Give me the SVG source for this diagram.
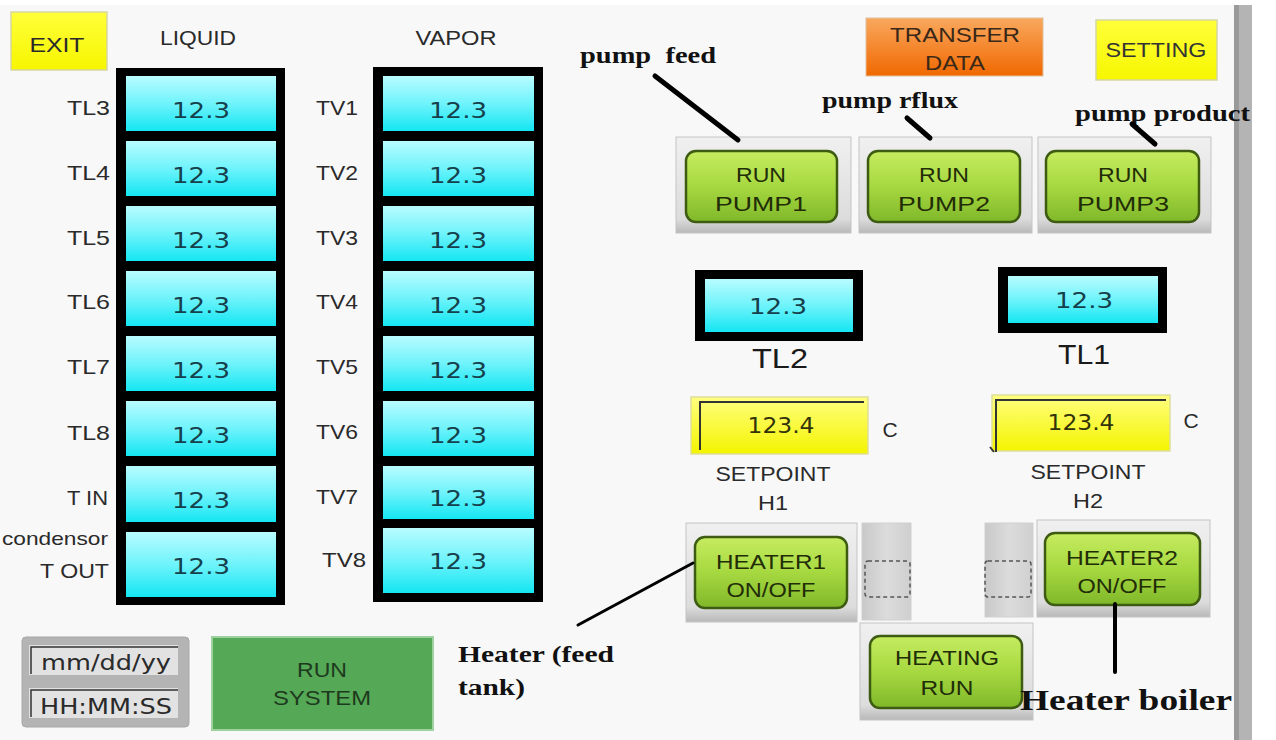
<svg xmlns="http://www.w3.org/2000/svg" width="1276" height="740" viewBox="0 0 1276 740">
<defs>
<linearGradient id="cyan" x1="0" y1="0" x2="0" y2="1"><stop offset="0" stop-color="#b8fcff"/><stop offset="0.5" stop-color="#6ff3fb"/><stop offset="1" stop-color="#14e6f2"/></linearGradient>
<linearGradient id="green" x1="0" y1="0" x2="0" y2="1"><stop offset="0" stop-color="#c6ec60"/><stop offset="0.5" stop-color="#a6d840"/><stop offset="1" stop-color="#80b82a"/></linearGradient>
<linearGradient id="frame" x1="0" y1="0" x2="0" y2="1"><stop offset="0" stop-color="#f0f0f0"/><stop offset="0.85" stop-color="#dcdcdc"/><stop offset="1" stop-color="#b8b8b8"/></linearGradient>
<linearGradient id="strip" x1="0" y1="0" x2="1" y2="0"><stop offset="0" stop-color="#c8c8c8"/><stop offset="0.5" stop-color="#dcdcdc"/><stop offset="1" stop-color="#cfcfcf"/></linearGradient>
<linearGradient id="yellow" x1="0" y1="0" x2="0" y2="1"><stop offset="0" stop-color="#ffff80"/><stop offset="1" stop-color="#f4f400"/></linearGradient>
<linearGradient id="yel2" x1="0" y1="0" x2="0" y2="1"><stop offset="0" stop-color="#ffff3a"/><stop offset="1" stop-color="#f6f600"/></linearGradient>
<linearGradient id="orange" x1="0" y1="0" x2="0" y2="1"><stop offset="0" stop-color="#f9a85e"/><stop offset="1" stop-color="#f06800"/></linearGradient>
<style>
.lbl{font-family:"Liberation Sans",Arial,sans-serif;font-size:21px;fill:#2a2a2a}
.hdr{font-family:"Liberation Sans",Arial,sans-serif;font-size:21px;fill:#2a2a2a;text-anchor:middle}
.num{font-family:"DejaVu Sans",Verdana,sans-serif;font-size:22px;fill:#15404c;text-anchor:middle}
.sp{font-family:"DejaVu Sans",Verdana,sans-serif;font-size:22px;fill:#33330a;text-anchor:middle}
.btn{font-family:"Liberation Sans",Arial,sans-serif;font-size:21px;fill:#222d08;text-anchor:middle}
.big{font-family:"Liberation Sans",Arial,sans-serif;font-size:28px;fill:#1a1a1a;text-anchor:middle}
.mono{font-family:"DejaVu Sans",Verdana,sans-serif;font-size:22px;fill:#2a2a2a;text-anchor:middle}
.note{font-family:"Liberation Serif","Times New Roman",serif;font-weight:bold;fill:#111}
.cell{fill:url(#cyan)}
.frm{fill:url(#frame);stroke:#c4c4c4;stroke-width:1}
.gbtn{fill:url(#green);stroke:#3d5c12;stroke-width:2.5}
.strip{fill:url(#strip);stroke:#d0d0d0;stroke-width:1}
.dash{fill:none;stroke:#555;stroke-width:1.5;stroke-dasharray:4 3}
.lead{stroke:#000;stroke-linecap:round;fill:none}
</style>
</defs>
<rect x="0" y="0" width="1276" height="740" fill="#f8f8f8"/>
<rect x="0" y="0" width="1276" height="5" fill="#ffffff"/>
<rect x="1234" y="5" width="5" height="735" fill="#9a9a9a"/>
<rect x="1239" y="5" width="13" height="735" fill="#b4b4b4"/>
<rect x="1252" y="0" width="24" height="740" fill="#ffffff"/>

<g id="exit">
<rect x="11" y="12" width="96" height="58" fill="url(#yel2)" stroke="#d6d6a0" stroke-width="1.5"/>
<text class="lbl" x="57" y="52" text-anchor="middle" textLength="55" lengthAdjust="spacingAndGlyphs">EXIT</text>
</g>
<g id="liquid-header"><text class="hdr" x="198" y="45" textLength="76" lengthAdjust="spacingAndGlyphs">LIQUID</text></g>
<g id="vapor-header"><text class="hdr" x="456" y="45" textLength="81" lengthAdjust="spacingAndGlyphs">VAPOR</text></g>

<g id="liquid-column">
<rect x="116" y="68" width="169" height="537" fill="#000"/>
<rect class="cell" x="126" y="76" width="150" height="55"/>
<rect class="cell" x="126" y="141" width="150" height="55"/>
<rect class="cell" x="126" y="206" width="150" height="55"/>
<rect class="cell" x="126" y="271" width="150" height="55"/>
<rect class="cell" x="126" y="336" width="150" height="55"/>
<rect class="cell" x="126" y="401" width="150" height="55"/>
<rect class="cell" x="126" y="466" width="150" height="56"/>
<rect class="cell" x="126" y="532" width="150" height="65"/>
<text class="num" x="201" y="118" textLength="58" lengthAdjust="spacingAndGlyphs">12.3</text>
<text class="num" x="201" y="183" textLength="58" lengthAdjust="spacingAndGlyphs">12.3</text>
<text class="num" x="201" y="248" textLength="58" lengthAdjust="spacingAndGlyphs">12.3</text>
<text class="num" x="201" y="313" textLength="58" lengthAdjust="spacingAndGlyphs">12.3</text>
<text class="num" x="201" y="378" textLength="58" lengthAdjust="spacingAndGlyphs">12.3</text>
<text class="num" x="201" y="443" textLength="58" lengthAdjust="spacingAndGlyphs">12.3</text>
<text class="num" x="201" y="508" textLength="58" lengthAdjust="spacingAndGlyphs">12.3</text>
<text class="num" x="201" y="574" textLength="58" lengthAdjust="spacingAndGlyphs">12.3</text>
<g text-anchor="end">
<text class="lbl" x="110" y="115" textLength="43" lengthAdjust="spacingAndGlyphs">TL3</text>
<text class="lbl" x="110" y="180" textLength="43" lengthAdjust="spacingAndGlyphs">TL4</text>
<text class="lbl" x="110" y="245" textLength="43" lengthAdjust="spacingAndGlyphs">TL5</text>
<text class="lbl" x="110" y="309" textLength="43" lengthAdjust="spacingAndGlyphs">TL6</text>
<text class="lbl" x="110" y="374" textLength="43" lengthAdjust="spacingAndGlyphs">TL7</text>
<text class="lbl" x="110" y="440" textLength="43" lengthAdjust="spacingAndGlyphs">TL8</text>
<text class="lbl" x="108" y="505" textLength="41" lengthAdjust="spacingAndGlyphs">T IN</text>
<text class="lbl" x="108" y="545" style="font-size:19px" textLength="106" lengthAdjust="spacingAndGlyphs">condensor</text>
<text class="lbl" x="109" y="578" textLength="69" lengthAdjust="spacingAndGlyphs">T OUT</text>
</g>
</g>

<g id="vapor-column">
<rect x="373" y="67" width="170" height="535" fill="#000"/>
<rect class="cell" x="383" y="76" width="151" height="55"/>
<rect class="cell" x="383" y="141" width="151" height="55"/>
<rect class="cell" x="383" y="206" width="151" height="55"/>
<rect class="cell" x="383" y="271" width="151" height="55"/>
<rect class="cell" x="383" y="336" width="151" height="55"/>
<rect class="cell" x="383" y="401" width="151" height="55"/>
<rect class="cell" x="383" y="466" width="151" height="53"/>
<rect class="cell" x="383" y="528" width="151" height="65"/>
<text class="num" x="458" y="118" textLength="58" lengthAdjust="spacingAndGlyphs">12.3</text>
<text class="num" x="458" y="183" textLength="58" lengthAdjust="spacingAndGlyphs">12.3</text>
<text class="num" x="458" y="248" textLength="58" lengthAdjust="spacingAndGlyphs">12.3</text>
<text class="num" x="458" y="313" textLength="58" lengthAdjust="spacingAndGlyphs">12.3</text>
<text class="num" x="458" y="378" textLength="58" lengthAdjust="spacingAndGlyphs">12.3</text>
<text class="num" x="458" y="443" textLength="58" lengthAdjust="spacingAndGlyphs">12.3</text>
<text class="num" x="458" y="506" textLength="58" lengthAdjust="spacingAndGlyphs">12.3</text>
<text class="num" x="458" y="569" textLength="58" lengthAdjust="spacingAndGlyphs">12.3</text>
<g text-anchor="end">
<text class="lbl" x="358" y="115" textLength="42" lengthAdjust="spacingAndGlyphs">TV1</text>
<text class="lbl" x="358" y="180" textLength="42" lengthAdjust="spacingAndGlyphs">TV2</text>
<text class="lbl" x="358" y="245" textLength="42" lengthAdjust="spacingAndGlyphs">TV3</text>
<text class="lbl" x="358" y="309" textLength="42" lengthAdjust="spacingAndGlyphs">TV4</text>
<text class="lbl" x="358" y="374" textLength="42" lengthAdjust="spacingAndGlyphs">TV5</text>
<text class="lbl" x="358" y="439" textLength="42" lengthAdjust="spacingAndGlyphs">TV6</text>
<text class="lbl" x="358" y="504" textLength="42" lengthAdjust="spacingAndGlyphs">TV7</text>
<text class="lbl" x="366" y="567" textLength="44" lengthAdjust="spacingAndGlyphs">TV8</text>
</g>
</g>

<g id="transfer-data">
<rect x="866" y="18" width="177" height="58" fill="url(#orange)" stroke="#e0c0a0" stroke-width="1"/>
<text class="btn" x="955" y="42" style="fill:#3a2818" textLength="130" lengthAdjust="spacingAndGlyphs">TRANSFER</text>
<text class="btn" x="955" y="70" style="fill:#3a2818" textLength="60" lengthAdjust="spacingAndGlyphs">DATA</text>
</g>
<g id="setting">
<rect x="1096" y="20" width="121" height="60" fill="url(#yel2)" stroke="#d6d6a0" stroke-width="1.5"/>
<text class="btn" x="1156" y="57" style="fill:#333" textLength="101" lengthAdjust="spacingAndGlyphs">SETTING</text>
</g>

<g id="pump1">
<rect class="frm" x="676" y="137" width="175" height="96"/>
<rect class="gbtn" x="686" y="151" width="151" height="71" rx="10"/>
<text class="btn" x="761" y="182" textLength="50" lengthAdjust="spacingAndGlyphs">RUN</text>
<text class="btn" x="761" y="211" textLength="92" lengthAdjust="spacingAndGlyphs">PUMP1</text>
</g>
<g id="pump2">
<rect class="frm" x="859" y="137" width="173" height="96"/>
<rect class="gbtn" x="868" y="151" width="152" height="71" rx="10"/>
<text class="btn" x="944" y="182" textLength="50" lengthAdjust="spacingAndGlyphs">RUN</text>
<text class="btn" x="944" y="211" textLength="92" lengthAdjust="spacingAndGlyphs">PUMP2</text>
</g>
<g id="pump3">
<rect class="frm" x="1038" y="137" width="173" height="96"/>
<rect class="gbtn" x="1046" y="151" width="153" height="71" rx="10"/>
<text class="btn" x="1123" y="182" textLength="50" lengthAdjust="spacingAndGlyphs">RUN</text>
<text class="btn" x="1123" y="211" textLength="92" lengthAdjust="spacingAndGlyphs">PUMP3</text>
</g>

<g id="tl2">
<rect x="695" y="270" width="168" height="71" fill="#000"/>
<rect class="cell" x="705" y="279" width="148" height="53"/>
<text class="num" x="778" y="314" textLength="58" lengthAdjust="spacingAndGlyphs">12.3</text>
<text class="big" x="780" y="368" textLength="56" lengthAdjust="spacingAndGlyphs">TL2</text>
</g>
<g id="tl1">
<rect x="998" y="267" width="169" height="66" fill="#000"/>
<rect class="cell" x="1008" y="276" width="150" height="47"/>
<text class="num" x="1084" y="308" textLength="58" lengthAdjust="spacingAndGlyphs">12.3</text>
<text class="big" x="1084" y="364" textLength="52" lengthAdjust="spacingAndGlyphs">TL1</text>
</g>

<g id="setpoint-h1">
<rect x="691" y="397" width="177" height="57" fill="url(#yellow)" stroke="#dede9a" stroke-width="1.5"/>
<path d="M700 450 V402 H864" fill="none" stroke="#333" stroke-width="2"/>
<text class="sp" x="781" y="433" textLength="67" lengthAdjust="spacingAndGlyphs">123.4</text>
<text class="lbl" x="890" y="437" text-anchor="middle">C</text>
<text class="lbl" x="773" y="481" text-anchor="middle" textLength="115" lengthAdjust="spacingAndGlyphs">SETPOINT</text>
<text class="lbl" x="773" y="510" text-anchor="middle" textLength="30" lengthAdjust="spacingAndGlyphs">H1</text>
</g>
<g id="setpoint-h2">
<rect x="992" y="395" width="178" height="56" fill="url(#yellow)" stroke="#dede9a" stroke-width="1.5"/>
<path d="M990 447 L994 452 M996 452 V400 H1166" fill="none" stroke="#333" stroke-width="2"/>
<text class="sp" x="1081" y="430" textLength="67" lengthAdjust="spacingAndGlyphs">123.4</text>
<text class="lbl" x="1191" y="428" text-anchor="middle">C</text>
<text class="lbl" x="1088" y="479" text-anchor="middle" textLength="115" lengthAdjust="spacingAndGlyphs">SETPOINT</text>
<text class="lbl" x="1088" y="508" text-anchor="middle" textLength="30" lengthAdjust="spacingAndGlyphs">H2</text>
</g>

<g id="heater1">
<rect class="frm" x="686" y="523" width="171" height="99"/>
<rect class="gbtn" x="695" y="537" width="152" height="71" rx="10"/>
<text class="btn" x="771" y="569" textLength="110" lengthAdjust="spacingAndGlyphs">HEATER1</text>
<text class="btn" x="771" y="597" textLength="89" lengthAdjust="spacingAndGlyphs">ON/OFF</text>
</g>
<g id="strip-left">
<rect class="strip" x="862" y="523" width="49" height="97"/>
<rect class="dash" x="865" y="561" width="45" height="36" rx="3"/>
</g>
<g id="strip-right">
<rect class="strip" x="985" y="523" width="48" height="94"/>
<rect class="dash" x="985" y="561" width="46" height="36" rx="3"/>
</g>
<g id="heater2">
<rect class="frm" x="1037" y="520" width="173" height="97"/>
<rect class="gbtn" x="1045" y="533" width="155" height="72" rx="10"/>
<text class="btn" x="1122" y="565" textLength="112" lengthAdjust="spacingAndGlyphs">HEATER2</text>
<text class="btn" x="1122" y="593" textLength="89" lengthAdjust="spacingAndGlyphs">ON/OFF</text>
</g>
<g id="heating-run">
<rect class="frm" x="860" y="623" width="173" height="97"/>
<rect class="gbtn" x="870" y="636" width="152" height="72" rx="10"/>
<text class="btn" x="947" y="665" textLength="104" lengthAdjust="spacingAndGlyphs">HEATING</text>
<text class="btn" x="947" y="695" textLength="53" lengthAdjust="spacingAndGlyphs">RUN</text>
</g>

<g id="datetime">
<rect x="22" y="637" width="167" height="90" rx="4" fill="#b4b4b4" stroke="#a8a8a8" stroke-width="1"/>
<rect x="29" y="645" width="149" height="30" fill="#e2e2e2"/>
<path d="M31 674 V647 H178" fill="none" stroke="#333" stroke-width="1.5"/>
<rect x="29" y="688" width="149" height="30" fill="#e2e2e2"/>
<path d="M31 717 V690 H178" fill="none" stroke="#333" stroke-width="1.5"/>
<text class="mono" x="106" y="670" textLength="130" lengthAdjust="spacingAndGlyphs">mm/dd/yy</text>
<text class="mono" x="106" y="714" textLength="132" lengthAdjust="spacingAndGlyphs">HH:MM:SS</text>
</g>
<g id="run-system">
<rect x="212" y="637" width="221" height="93" fill="#55a855" stroke="#9fd09f" stroke-width="2"/>
<text class="btn" x="322" y="677" style="fill:#1e3a1e" textLength="50" lengthAdjust="spacingAndGlyphs">RUN</text>
<text class="btn" x="322" y="705" style="fill:#1e3a1e" textLength="98" lengthAdjust="spacingAndGlyphs">SYSTEM</text>
</g>

<g id="annotations">
<text class="note" x="580" y="63" style="font-size:24px;white-space:pre" textLength="136" lengthAdjust="spacingAndGlyphs">pump  feed</text>
<text class="note" x="822" y="108" style="font-size:24px" textLength="136" lengthAdjust="spacingAndGlyphs">pump rflux</text>
<text class="note" x="1075" y="121" style="font-size:24px" textLength="175" lengthAdjust="spacingAndGlyphs">pump product</text>
<text class="note" x="458" y="662" style="font-size:24px" textLength="156" lengthAdjust="spacingAndGlyphs">Heater (feed</text>
<text class="note" x="458" y="695" style="font-size:24px" textLength="67" lengthAdjust="spacingAndGlyphs">tank)</text>
<text class="note" x="1020" y="710" style="font-size:30px" textLength="212" lengthAdjust="spacingAndGlyphs">Heater boiler</text>
</g>

<g id="connectors">
<line class="lead" x1="655" y1="76" x2="738" y2="140" stroke-width="5"/>
<line class="lead" x1="907" y1="118" x2="930" y2="138" stroke-width="5"/>
<line class="lead" x1="1132" y1="124" x2="1155" y2="144" stroke-width="5"/>
<line class="lead" x1="693" y1="563" x2="578" y2="625" stroke-width="3"/>
<line class="lead" x1="1115" y1="604" x2="1115" y2="672" stroke-width="4"/>
</g>
</svg>
